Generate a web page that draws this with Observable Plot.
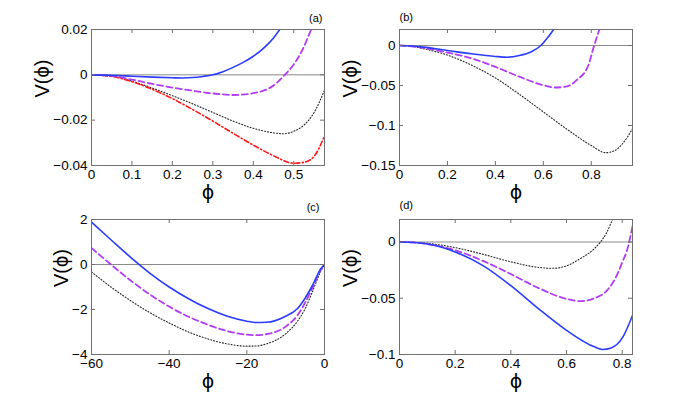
<!DOCTYPE html>
<html>
<head>
<meta charset="utf-8">
<script src="https://cdn.jsdelivr.net/npm/d3@7"></script>
<script src="https://cdn.jsdelivr.net/npm/@observablehq/plot@0.6"></script>
<style>
  html, body { margin: 0; padding: 0; background: #fff; }
  #chart { position: relative; width: 698px; height: 399px; overflow: hidden; }
  #chart svg { position: absolute; }
</style>
</head>
<body>
<div id="chart"></div>
<script>
// ---------- Panel (a) ----------
const aBlueX   = [0, 0.05, 0.1, 0.15, 0.2, 0.225, 0.25, 0.275, 0.3, 0.325, 0.35, 0.375, 0.4, 0.425, 0.45, 0.47];
const aBlueY   = [0, -0.0002, -0.0006, -0.001, -0.0013, -0.0014, -0.0012, -0.0007, 0, 0.0014, 0.0033, 0.0055, 0.0082, 0.0117, 0.0163, 0.0212];
const aPurpleX = [0, 0.05, 0.1, 0.15, 0.2, 0.25, 0.3, 0.35, 0.4, 0.45, 0.478, 0.5, 0.52, 0.545];
const aPurpleY = [0, -0.0005, -0.0021, -0.004, -0.0056, -0.007, -0.0082, -0.0089, -0.0081, -0.0047, 0, 0.0046, 0.0105, 0.021];
const aGrayX   = [0, 0.05, 0.1, 0.15, 0.2, 0.25, 0.3, 0.35, 0.4, 0.45, 0.475, 0.5, 0.525, 0.55, 0.576];
const aGrayY   = [0, -0.0006, -0.0028, -0.0058, -0.0092, -0.0128, -0.0166, -0.0204, -0.0236, -0.0256, -0.026, -0.0249, -0.0222, -0.0167, -0.0068];
const aRedX    = [0, 0.05, 0.1, 0.15, 0.2, 0.25, 0.3, 0.35, 0.4, 0.45, 0.5, 0.525, 0.55, 0.576];
const aRedY    = [0, -0.0007, -0.003, -0.0064, -0.0105, -0.0153, -0.0204, -0.0258, -0.031, -0.0357, -0.039, -0.0386, -0.036, -0.027];
const aXTicks  = [0, 0.1, 0.2, 0.3, 0.4, 0.5];
const aYTicks  = [-0.04, -0.02, 0, 0.02];

// ---------- Panel (b) ----------
const bBlueX   = [0, 0.05, 0.1, 0.2, 0.3, 0.4, 0.45, 0.5, 0.55, 0.59, 0.62, 0.645];
const bBlueY   = [0, -0.0006, -0.002, -0.0062, -0.0104, -0.0137, -0.0146, -0.0126, -0.0078, 0, 0.0105, 0.021];
const bPurpleX = [0, 0.05, 0.1, 0.2, 0.3, 0.4, 0.5, 0.6, 0.65, 0.7, 0.74, 0.7875, 0.808, 0.835];
const bPurpleY = [0, -0.001, -0.003, -0.0088, -0.016, -0.0267, -0.039, -0.0496, -0.0525, -0.051, -0.043, -0.025, -0.004, 0.021];
const bGrayX   = [0, 0.05, 0.1, 0.2, 0.3, 0.4, 0.5, 0.6, 0.7, 0.8, 0.86, 0.9, 0.94, 0.972];
const bGrayY   = [0, -0.001, -0.004, -0.012, -0.0245, -0.0405, -0.061, -0.083, -0.105, -0.125, -0.134, -0.131, -0.119, -0.104];
const bXTicks  = [0, 0.2, 0.4, 0.6, 0.8];
const bYTicks  = [-0.15, -0.1, -0.05, 0];

// ---------- Panel (c) ----------
const cX       = [-60, -55, -50, -45, -40, -35, -30, -25, -20, -17.5, -15, -10, -7, -5, -3, -1, 0];
const cBlueY   = [1.88, 1.1, 0.33, -0.38, -1.0, -1.52, -1.96, -2.3, -2.52, -2.58, -2.57, -2.3, -1.97, -1.5, -0.9, -0.2, 0];
const cPurpleY = [0.73, 0, -0.7, -1.33, -1.87, -2.32, -2.68, -2.96, -3.12, -3.14, -3.1, -2.76, -2.27, -1.7, -1.0, -0.25, 0];
const cGrayY   = [-0.33, -1.0, -1.6, -2.14, -2.6, -3.0, -3.31, -3.53, -3.63, -3.62, -3.53, -3.08, -2.53, -1.97, -1.16, -0.31, 0];
const cXTicks  = [-60, -40, -20, 0];
const cYTicks  = [-4, -2, 0, 2];

// ---------- Panel (d) ----------
const dBlueX   = [0, 0.05, 0.1, 0.2, 0.3, 0.4, 0.5, 0.6, 0.7, 0.73, 0.76, 0.8, 0.837];
const dBlueY   = [0, -0.0005, -0.0018, -0.0088, -0.021, -0.0388, -0.0594, -0.0785, -0.0932, -0.0955, -0.0942, -0.0855, -0.0653];
const dPurpleX = [0, 0.05, 0.1, 0.2, 0.3, 0.4, 0.5, 0.6, 0.65, 0.7, 0.75, 0.78, 0.8, 0.82, 0.837];
const dPurpleY = [0, -0.0004, -0.0018, -0.0074, -0.0168, -0.0285, -0.041, -0.0506, -0.0526, -0.05, -0.0418, -0.03, -0.0182, -0.005, 0.014];
const dGrayX   = [0, 0.05, 0.1, 0.2, 0.3, 0.4, 0.5, 0.55, 0.6, 0.65, 0.7, 0.722, 0.744, 0.765, 0.786];
const dGrayY   = [0, -0.0003, -0.0012, -0.005, -0.0109, -0.0176, -0.0226, -0.0234, -0.0212, -0.0147, -0.0059, 0, 0.0082, 0.02, 0.032];
const dXTicks  = [0, 0.2, 0.4, 0.6, 0.8];
const dYTicks  = [-0.1, -0.05, 0];

const panelLetters = ["(a)", "(b)", "(c)", "(d)"];
const xLabel = "ϕ";
const yLabel = "V(ϕ)";

// ---------- styles ----------
const STYLES = {
  blue:   {stroke: "#2b3cff", strokeWidth: 1.6},
  purple: {stroke: "#b23cf5", strokeWidth: 1.8, strokeDasharray: "6,3.5"},
  gray:   {stroke: "#222", strokeWidth: 1.1, strokeDasharray: "1,2"},
  red:    {stroke: "#ff1a1a", strokeWidth: 1.6, strokeDasharray: "5,2.5,1.2,2.5"}
};
const FRAME = "#707070";
const FONT = "'Liberation Sans', Arial, Helvetica, sans-serif";

const fmt = d => d === 0 ? "0" : (d < 0 ? "\u2212" : "") + String(+Math.abs(d).toFixed(6));
const pts = (xs, ys) => xs.map((x, i) => ({x, y: ys[i]}));

function panel(cfg) {
  const innerH = cfg.height - cfg.mt - cfg.mb;
  const innerW = cfg.width - cfg.ml - cfg.mr;
  const T = 4;
  const marks = [
    Plot.ruleY([0], {stroke: "#8a8a8a", strokeWidth: 1}),
    ...cfg.series.map(s => Plot.line(pts(s.x, s.y), {x: "x", y: "y", curve: "monotone-x", clip: true, ...STYLES[s.style]})),
    Plot.tickX(cfg.xTicks, {x: d => d, insetTop: innerH - T, stroke: FRAME}),
    Plot.tickX(cfg.xTicks, {x: d => d, insetBottom: innerH - T, stroke: FRAME}),
    Plot.tickY(cfg.yTicks, {y: d => d, insetRight: innerW - T, stroke: FRAME}),
    Plot.tickY(cfg.yTicks, {y: d => d, insetLeft: innerW - T, stroke: FRAME}),
    Plot.frame({stroke: FRAME, strokeWidth: 1}),
    Plot.text([xLabel], {text: d => d, frameAnchor: "bottom", dy: 27, fontSize: 19, fontFamily: "DejaVu Sans", lineAnchor: "middle"}),
    Plot.text([yLabel], {text: d => d, frameAnchor: "left", dx: cfg.ylabDx, rotate: -90, fontSize: 20, lineAnchor: "middle"}),
    Plot.text([cfg.letter], {text: d => d, frameAnchor: cfg.letterAnchor, textAnchor: cfg.letterTextAnchor, dx: cfg.letterDx, dy: cfg.letterDy, fontSize: 11, lineAnchor: "middle"})
  ];
  const svg = Plot.plot({
    width: cfg.width, height: cfg.height,
    marginLeft: cfg.ml, marginRight: cfg.mr, marginTop: cfg.mt, marginBottom: cfg.mb,
    style: {fontFamily: FONT, fontSize: "13.5px", color: "#000", background: "transparent", overflow: "visible"},
    x: {domain: cfg.xDomain, ticks: cfg.xTicks, tickFormat: fmt, tickSize: 0, tickPadding: 4, label: null},
    y: {domain: cfg.yDomain, ticks: cfg.yTicks, tickFormat: fmt, tickSize: 0, tickPadding: 4, label: null},
    marks
  });
  svg.style.left = cfg.left + "px";
  svg.style.top = cfg.top + "px";
  return svg;
}

const chart = document.getElementById("chart");
const panels = [
  {left: 0, top: 0, width: 349, height: 199, ml: 91, mr: 25, mt: 29, mb: 34,
   xDomain: [0, 0.576], yDomain: [-0.04, 0.02], xTicks: aXTicks, yTicks: aYTicks,
   ylabDx: -49, letter: panelLetters[0], letterAnchor: "top-right", letterTextAnchor: "end", letterDx: -2, letterDy: -11,
   series: [{x: aGrayX, y: aGrayY, style: "gray"}, {x: aRedX, y: aRedY, style: "red"}, {x: aPurpleX, y: aPurpleY, style: "purple"}, {x: aBlueX, y: aBlueY, style: "blue"}]},
  {left: 349, top: 0, width: 349, height: 199, ml: 50, mr: 66, mt: 29, mb: 34,
   xDomain: [0, 0.972], yDomain: [-0.15, 0.02], xTicks: bXTicks, yTicks: bYTicks,
   ylabDx: -49, letter: panelLetters[1], letterAnchor: "top-left", letterTextAnchor: "start", letterDx: 0, letterDy: -12,
   series: [{x: bGrayX, y: bGrayY, style: "gray"}, {x: bPurpleX, y: bPurpleY, style: "purple"}, {x: bBlueX, y: bBlueY, style: "blue"}]},
  {left: 0, top: 199, width: 349, height: 200, ml: 91, mr: 25, mt: 20, mb: 45,
   xDomain: [-60, 0], yDomain: [-4, 2], xTicks: cXTicks, yTicks: cYTicks,
   ylabDx: -30, letter: panelLetters[2], letterAnchor: "top-right", letterTextAnchor: "end", letterDx: -5, letterDy: -12,
   series: [{x: cX, y: cGrayY, style: "gray"}, {x: cX, y: cPurpleY, style: "purple"}, {x: cX, y: cBlueY, style: "blue"}]},
  {left: 349, top: 199, width: 349, height: 200, ml: 50, mr: 66, mt: 20, mb: 45,
   xDomain: [0, 0.837], yDomain: [-0.1, 0.02], xTicks: dXTicks, yTicks: dYTicks,
   ylabDx: -49, letter: panelLetters[3], letterAnchor: "top-left", letterTextAnchor: "start", letterDx: 0, letterDy: -14,
   series: [{x: dGrayX, y: dGrayY, style: "gray"}, {x: dPurpleX, y: dPurpleY, style: "purple"}, {x: dBlueX, y: dBlueY, style: "blue"}]}
];
panels.forEach(p => chart.appendChild(panel(p)));
</script>
</body>
</html>
